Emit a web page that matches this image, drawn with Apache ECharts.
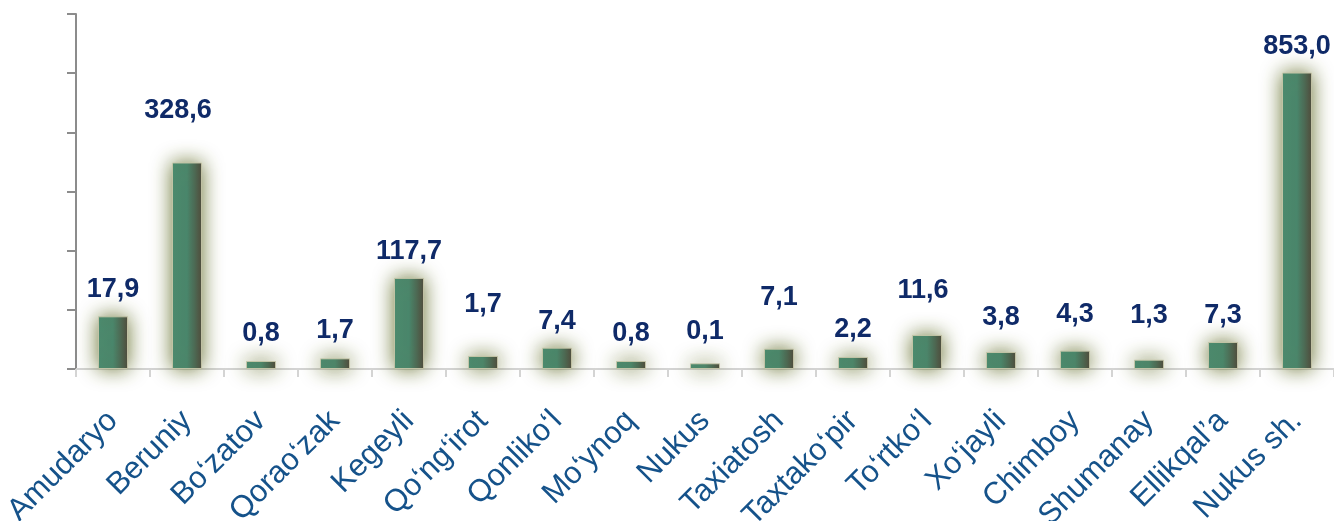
<!DOCTYPE html>
<html>
<head>
<meta charset="utf-8">
<script src="https://cdn.jsdelivr.net/npm/echarts@6/dist/echarts.min.js"></script>
<style>
html,body{margin:0;padding:0;background:#fff;}
#chart{width:1334px;height:521px;}
</style>
</head>
<body>
<div id="chart"></div>
<script>
// ---- data ----
const categories = ["Amudaryo","Beruniy","Bo\u2018zatov","Qorao\u2018zak","Kegeyli","Qo\u2018ng\u2018irot","Qonliko\u2018l","Mo\u2018ynoq","Nukus","Taxiatosh","Taxtako\u2018pir","To\u2018rtko\u2018l","Xo\u2018jayli","Chimboy","Shumanay","Ellikqal\u2019a","Nukus sh."];
// bar heights as drawn (in unlabelled axis units, axis 0..60)
const barHeights = [8.9, 34.9, 1.35, 1.8, 15.4, 2.2, 3.6, 1.35, 0.96, 3.43, 2.03, 5.75, 2.87, 3.1, 1.57, 4.56, 50.1];
// values printed above the bars
const labelValues = [17.9, 328.6, 0.8, 1.7, 117.7, 1.7, 7.4, 0.8, 0.1, 7.1, 2.2, 11.6, 3.8, 4.3, 1.3, 7.3, 853.0];
const yTicks = [0, 10, 20, 30, 40, 50, 60];

// ---- styling (label gaps above bars) ----
const labelDistance = [13,38,14,14,13,38,13,14,18,38,14,31,21,23,31,13,13];
const labelShift = [0,-9,0,0,0,0,0,0,0,0,0,-4,0,0,0,0,0];

const barColor = {
  type: 'linear', x: 0, y: 0, x2: 1, y2: 0,
  colorStops: [
    {offset: 0, color: '#4b8b70'},
    {offset: 0.5, color: '#4a876d'},
    {offset: 0.75, color: '#4c6a56'},
    {offset: 1, color: '#4f4a3c'}
  ]
};

const chart = echarts.init(document.getElementById('chart'), null, {renderer: 'canvas'});
chart.setOption({
  animation: false,
  grid: {left: 76, right: 0, top: 14, bottom: 152, containLabel: false, outerBoundsMode: 'none'},
  xAxis: {
    type: 'category',
    data: categories,
    boundaryGap: true,
    axisLine: {show: true, lineStyle: {color: '#d4d4d4', width: 2}},
    axisTick: {show: true, length: 8, lineStyle: {color: '#d4d4d4', width: 2}},
    axisLabel: {
      rotate: 45, margin: 47, interval: 0,
      color: '#15528a', fontSize: 31, fontFamily: 'Liberation Sans, Arial, sans-serif'
    },
    splitLine: {show: false}
  },
  yAxis: {
    type: 'value', min: yTicks[0], max: yTicks[yTicks.length-1], interval: 10,
    axisLine: {show: true, lineStyle: {color: '#8c8c8c', width: 2}},
    axisTick: {show: true, inside: false, length: 9, lineStyle: {color: '#8c8c8c', width: 2}},
    axisLabel: {show: false},
    splitLine: {show: false}
  },
  series: [{
    type: 'bar',
    barWidth: 30,
    data: barHeights.map((h, i) => ({
      value: h,
      label: {distance: labelDistance[i], offset: [labelShift[i], 0]}
    })),
    itemStyle: {
      color: barColor,
      borderColor: 'rgba(200,200,170,0.9)', borderWidth: 1,
      shadowBlur: 20, shadowColor: 'rgba(105,115,50,1)'
    },
    label: {
      show: true, position: 'top',
      formatter: p => labelValues[p.dataIndex].toFixed(1).replace('.', ','),
      color: '#0f2a68', fontSize: 27, fontWeight: 'bold',
      fontFamily: 'Liberation Sans, Arial, sans-serif'
    }
  }]
});
</script>
</body>
</html>
